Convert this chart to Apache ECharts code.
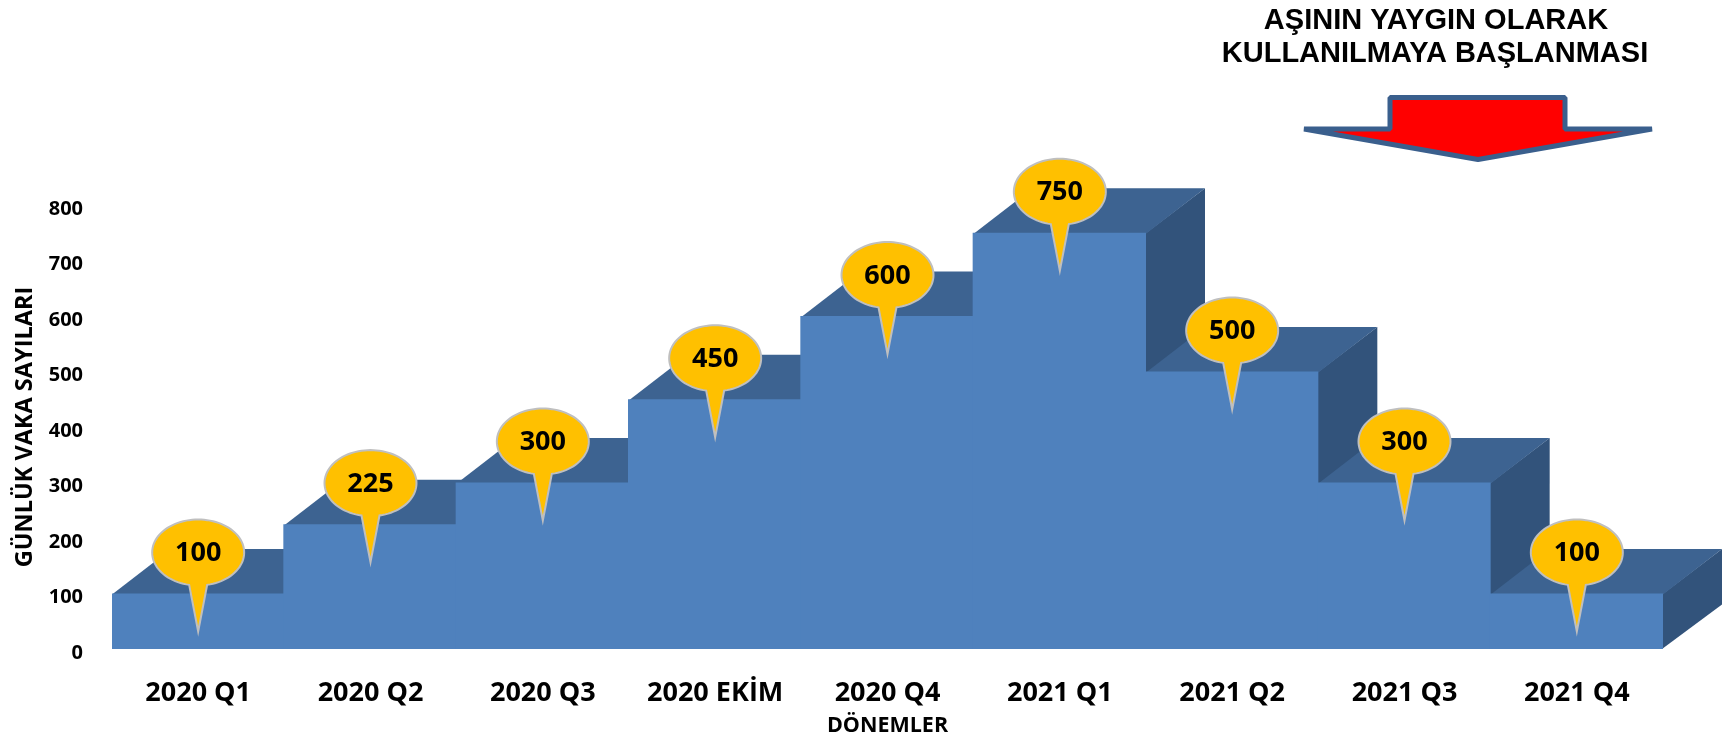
<!DOCTYPE html>
<html>
<head>
<meta charset="utf-8">
<script src="https://cdn.jsdelivr.net/npm/echarts@6/dist/echarts.min.js"></script>
<style>
html,body{margin:0;padding:0;background:#fff;}
#chart{width:1731px;height:736px;}
</style>
</head>
<body>
<div id="chart"></div>
<script>
// ---- data ----
const categories = ['2020 Q1', '2020 Q2', '2020 Q3', '2020 EKİM', '2020 Q4', '2021 Q1', '2021 Q2', '2021 Q3', '2021 Q4'];
const values = [100, 225, 300, 450, 600, 750, 500, 300, 100];
const yAxisTitle = 'GÜNLÜK VAKA SAYILARI';
const xAxisTitle = 'DÖNEMLER';
const noteLines = ['AŞININ YAYGIN OLARAK', 'KULLANILMAYA BAŞLANMASI'];

// ---- styling ----
const FRONT = '#4F81BD', TOP = '#3D6391', SIDE = '#32537B';
const DX = 59, DY = 44.5;
const FONT = '"Open Sans", Lato, sans-serif';

const chart = echarts.init(document.getElementById('chart'), null, {renderer: 'canvas'});

function renderStep(params, api) {
  const idx = api.value(0), v = api.value(1);
  const top = api.coord([idx, v]);
  const base = api.coord([idx, 0]);
  const w = api.size([1, 0])[0];
  const x0 = top[0] - w / 2, x1 = top[0] + w / 2, yT = top[1], yB = base[1];
  const ext = idx === 0 ? 0 : 1;
  return {
    type: 'group',
    children: [
      {type: 'polygon', z2: idx * 3, shape: {points: [[x1 - 1, yT + 1], [x1 + DX, yT - DY], [x1 + DX, yB - DY], [x1 - 1, yB]]}, style: {fill: SIDE}},
      {type: 'polygon', z2: idx * 3 + 1, shape: {points: [[x0, yT + 1], [x1, yT + 1], [x1 + DX, yT - DY], [x0 + DX, yT - DY]]}, style: {fill: TOP}},
      {type: 'rect', z2: idx * 3 + 2, shape: {x: x0 - ext, y: yT, width: w + ext, height: yB - yT}, style: {fill: FRONT}}
    ]
  };
}

function renderCallout(params, api) {
  const idx = api.value(0), v = api.value(1);
  const top = api.coord([idx, v]);
  const cx = top[0], cy = top[1] - 41;
  const rx = 46, ry = 33, hw = 9;
  const tipY = top[1] + 38;
  const a0 = Math.asin(hw / rx);
  const pts = [];
  const n = 90;
  for (let k = 0; k <= n; k++) {
    const t = a0 + (2 * Math.PI - 2 * a0) * k / n;
    pts.push([cx - rx * Math.sin(t), cy + ry * Math.cos(t)]);
  }
  pts.push([cx, tipY]);
  return {
    type: 'group',
    children: [
      {type: 'polygon', shape: {points: pts}, style: {fill: '#FFC000', stroke: '#BFBFBF', lineWidth: 2, lineJoin: 'miter'}},
      {type: 'text', style: {text: String(v), x: cx, y: cy + 1, textAlign: 'center', textVerticalAlign: 'middle', font: 'bold 27px ' + FONT, fill: '#000'}}
    ]
  };
}

const seriesData = values.map((v, i) => [i, v]);

chart.setOption({
  animation: false,
  backgroundColor: '#fff',
  grid: {left: 112, right: 68, top: 205, bottom: 87, containLabel: false, outerBoundsMode: 'none'},
  xAxis: {
    type: 'category',
    data: categories,
    boundaryGap: true,
    axisLine: {show: false},
    axisTick: {show: false},
    axisLabel: {interval: 0, color: '#000', fontWeight: 'bold', fontSize: 27, fontFamily: FONT, margin: 31},
    name: xAxisTitle,
    nameLocation: 'middle',
    nameGap: 66,
    nameTextStyle: {color: '#000', fontWeight: 'bold', fontSize: 21.5, fontFamily: FONT}
  },
  yAxis: {
    type: 'value',
    min: 0, max: 800, interval: 100,
    axisLine: {show: false},
    axisTick: {show: false},
    splitLine: {show: false},
    axisLabel: {
      margin: 29,
      formatter: '{a|{value}}',
      rich: {a: {color: '#000', fontWeight: 'bold', fontSize: 20, fontFamily: FONT, padding: [8, 0, 0, 0]}}
    },
    name: yAxisTitle,
    nameLocation: 'middle',
    nameRotate: 90,
    nameGap: 73,
    nameTextStyle: {color: '#000', fontWeight: 'bold', fontSize: 23.5, fontFamily: FONT}
  },
  graphic: [
    {type: 'text', style: {text: noteLines[0], x: 1436, y: 21, textAlign: 'center', textVerticalAlign: 'middle', font: 'bold 29px "Liberation Sans", Arial, sans-serif', fill: '#000'}},
    {type: 'text', style: {text: noteLines[1], x: 1435, y: 54, textAlign: 'center', textVerticalAlign: 'middle', font: 'bold 29px "Liberation Sans", Arial, sans-serif', fill: '#000'}},
    {type: 'polygon', shape: {points: [[1390, 97.5], [1565, 97.5], [1565, 129], [1652, 129], [1478, 159.5], [1304, 129], [1390, 129]]},
     style: {fill: '#FF0000', stroke: '#3A5F8D', lineWidth: 5, lineJoin: 'bevel'}}
  ],
  series: [
    {type: 'custom', renderItem: renderStep, data: seriesData, encode: {x: 0, y: 1}, z: 2, clip: false},
    {type: 'custom', renderItem: renderCallout, data: seriesData, encode: {x: 0, y: 1}, z: 5, clip: false}
  ]
});
</script>
</body>
</html>
